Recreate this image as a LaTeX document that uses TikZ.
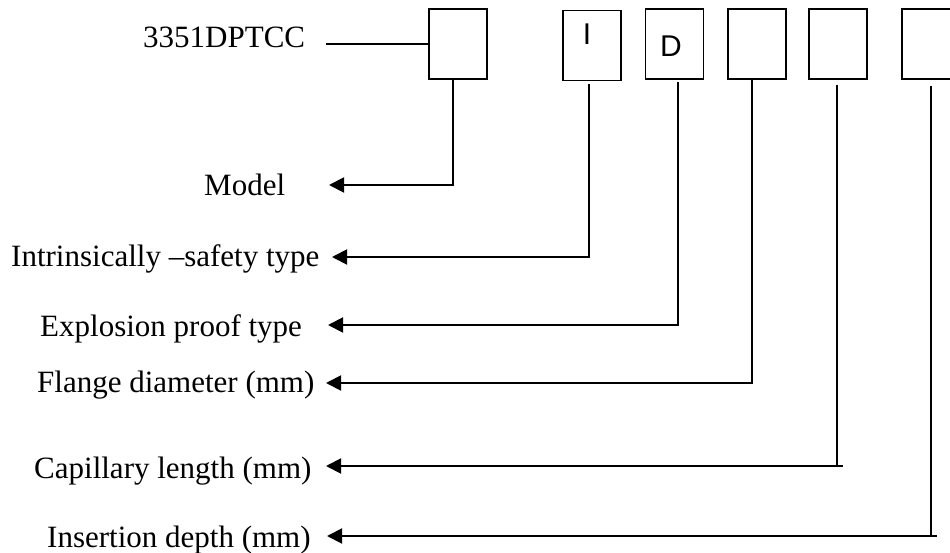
\documentclass[tikz,border=0pt]{standalone}
\usepackage{fontspec}
\setmainfont{Liberation Serif}
\newfontfamily\boxfont{Liberation Sans}
\usetikzlibrary{arrows.meta}
\begin{document}
\begin{tikzpicture}[x=1pt,y=-1pt,
  codebox/.style={draw,line width=1.9pt,minimum width=58pt,minimum height=70pt,inner sep=0pt},
  lbl/.style={anchor=base west,inner sep=0pt,font=\fontsize{31}{36}\selectfont},
  boxtxt/.style={inner sep=0pt,font=\boxfont\fontsize{30}{34}\selectfont},
  conn/.style={line width=1.9pt},
  arr/.style={line width=1.9pt,-{Triangle[length=15pt,width=15pt]}}]
\clip (0,0) rectangle (950,553);
\fill[white] (0,0) rectangle (950,553);
% boxes
\node[codebox] (b1) at (458,44) {};
\node[codebox] (b2) at (592,45.5) {};
\node[codebox] (b3) at (674.5,44) {};
\node[codebox] (b4) at (757,44) {};
\node[codebox] (b5) at (838,44) {};
\node[codebox] (b6) at (931,44) {};
\node[boxtxt] (ti) at (587,34) {I};
\node[boxtxt] (td) at (671,46) {D};
% labels
\node[lbl] (model0) at (143,48) {3351DPTCC};
\node[lbl] (l1) at (204,196) {Model};
\node[lbl] (l2) at (11,267) {Intrinsically –safety type};
\node[lbl] (l3) at (40,336) {Explosion proof type};
\node[lbl] (l4) at (37,392) {Flange diameter (mm)};
\node[lbl] (l5) at (34,478) {Capillary length (mm)};
\node[lbl] (l6) at (47,547) {Insertion depth (mm)};
% arrow tips and corners
\coordinate (s0) at (326,44);
\coordinate (t1) at (329,185);
\coordinate (t2) at (332,257);
\coordinate (t3) at (328,325);
\coordinate (t4) at (326,383);
\coordinate (t5) at (326,466);
\coordinate (t6) at (327,536);
\coordinate (e5) at (843,466);
\coordinate (e6) at (937,536);
% connectors
\draw[conn] (s0) -- (b1.west);
\draw[arr] ([xshift=-5pt]b1.south) |- (t1);
\draw[arr] ([xshift=-3pt,yshift=-3pt]b2.south) |- (t2);
\draw[arr] ([xshift=3.5pt,yshift=-2pt]b3.south) |- (t3);
\draw[arr] ([xshift=-5pt]b4.south) |- (t4);
\draw[conn] ([xshift=-1pt,yshift=-5pt]b5.south) -- ([xshift=-1pt]b5.south |- e5);
\draw[arr] (e5) -- (t5);
\draw[conn] ([xshift=-0pt,yshift=-6pt]b6.south) -- (b6.south |- e6);
\draw[arr] (e6) -- (t6);
\end{tikzpicture}
\end{document}
